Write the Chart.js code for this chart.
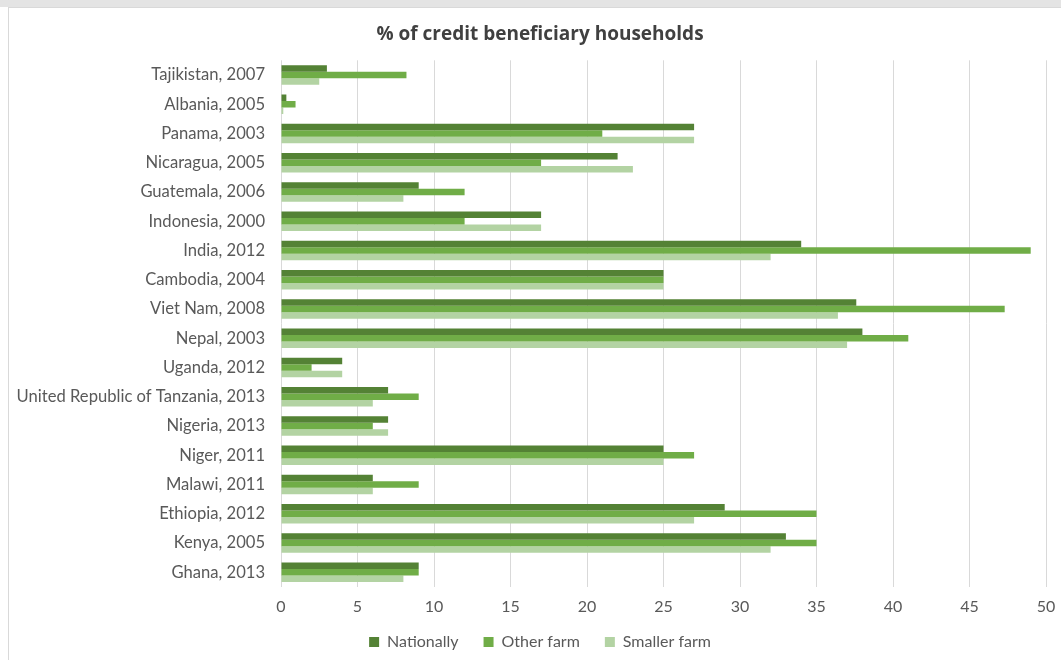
<!DOCTYPE html>
<html>
<head>
<meta charset="utf-8">
<script src="https://cdn.jsdelivr.net/npm/chart.js@4.4.0/dist/chart.umd.min.js"></script>
<style>
html,body{margin:0;padding:0;background:#fff;overflow:hidden;}
#wrap{position:relative;width:1061px;height:660px;overflow:hidden;}
#topband{position:absolute;left:0;top:0;width:1061px;height:7px;background:#e4e4e4;}
#frame{position:absolute;left:8px;top:7px;width:1060px;height:660px;border:1px solid #d9d9d9;box-sizing:border-box;}
canvas{position:absolute;left:0;top:0;}
</style>
</head>
<body>
<div id="wrap">
<div id="topband"></div>
<div id="frame"></div>
<canvas id="c" width="1080" height="660"></canvas>
</div>
<script>
const categories = [
  "Tajikistan, 2007","Albania, 2005","Panama, 2003","Nicaragua, 2005","Guatemala, 2006",
  "Indonesia, 2000","India, 2012","Cambodia, 2004","Viet Nam, 2008","Nepal, 2003",
  "Uganda, 2012","United Republic of Tanzania, 2013","Nigeria, 2013","Niger, 2011",
  "Malawi, 2011","Ethiopia, 2012","Kenya, 2005","Ghana, 2013"
];
const nationally  = [3.0, 0.35, 27, 22, 9, 17, 34, 25, 37.6, 38, 4, 7, 7, 25, 6, 29, 33, 9];
const otherFarm   = [8.2, 0.95, 21, 17, 12, 12, 49, 25, 47.3, 41, 2, 9, 6, 27, 9, 35, 35, 9];
const smallerFarm = [2.5, 0.15, 27, 23, 8, 17, 32, 25, 36.4, 37, 4, 6, 7, 25, 6, 27, 32, 8];
const seriesNames = ["Nationally","Other farm","Smaller farm"];
const seriesColors = ["#548235","#70AD47","#B3D3A3"];
const xTicks = [0,5,10,15,20,25,30,35,40,45,50];

const txt = "#595959";
const fam = "Lato, 'Open Sans', sans-serif";

new Chart(document.getElementById('c'), {
  type: 'bar',
  data: {
    labels: categories,
    datasets: [nationally, otherFarm, smallerFarm].map((d,i)=>({
      label: seriesNames[i],
      data: d,
      backgroundColor: seriesColors[i],
      borderWidth: 0,
      categoryPercentage: 0.667,
      barPercentage: 1.0
    }))
  },
  options: {
    indexAxis: 'y',
    responsive: false,
    animation: false,
    layout: { padding: { left: 0, right: 0, top: 0, bottom: 0 } },
    plugins: {
      title: {
        display: true,
        text: "% of credit beneficiary households",
        color: "#404040",
        font: { family: "'Open Sans', Lato, sans-serif", size: 19, weight: 'bold' },
        padding: { top: 23, bottom: 14.5 }
      },
      legend: {
        position: 'bottom',
        labels: {
          color: txt,
          font: { family: fam, size: 16 },
          boxWidth: 10, boxHeight: 10,
          padding: 25
        }
      },
      tooltip: { enabled: false }
    },
    scales: {
      x: {
        min: 0, max: 50,
        afterBuildTicks: (ax) => { ax.ticks = xTicks.map(v=>({value:v})); },
        afterFit: (ax) => {
          ax.height = ax.height - 17;
          ax.paddingRight = 34;
          ax._computeLabelArea = () => undefined;
        },
        ticks: { color: txt, font: { family: fam, size: 16 }, padding: 10 },
        grid: { color: "#d9d9d9", lineWidth: 1, drawTicks: false },
        border: { display: false }
      },
      y: {
        afterFit: (ax) => { ax.width = 281; },
        ticks: { color: txt, font: { family: fam, size: 16.6 }, padding: 16, autoSkip: false },
        grid: { display: false, drawTicks: false },
        border: { display: false }
      }
    }
  }
});
</script>
</body>
</html>
